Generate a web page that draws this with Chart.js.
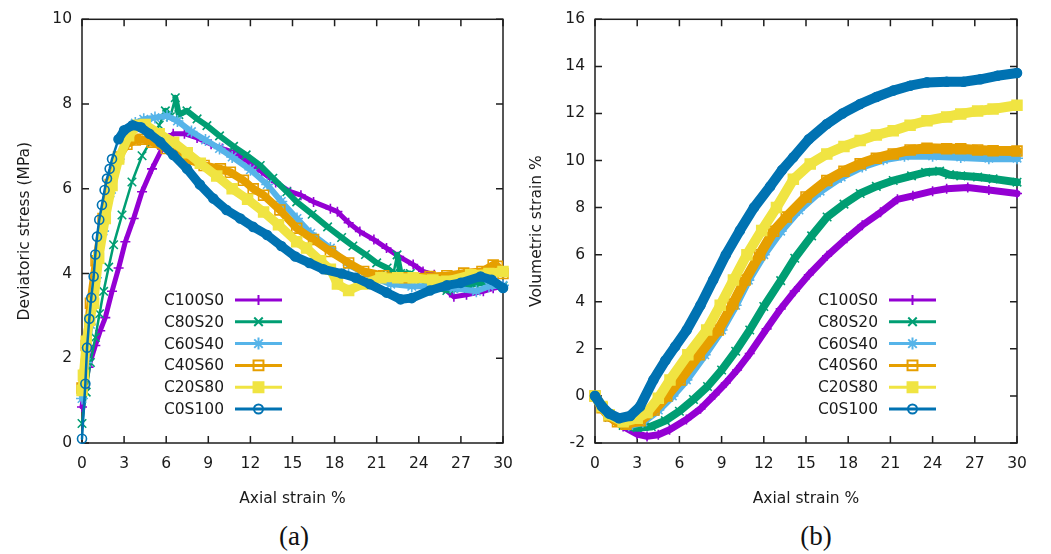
<!DOCTYPE html>
<html lang="en">
<head>
  <meta charset="UTF-8">
  <title>Deviatoric stress and volumetric strain vs axial strain</title>
  <script src="https://cdn.jsdelivr.net/npm/chart.js"></script>
  <style>
    body { margin: 0; background: #fff; width: 1051px; height: 554px; position: relative; overflow: hidden; }
    .panel { position: absolute; top: 0; }
    #wrapA { left: 0; }
    #wrapB { left: 525px; }
    .caption { position: absolute; top: 520px; font-family: "Liberation Serif", serif; font-size: 27px; color: #111; transform: translateX(-50%); line-height: 32px; }
  </style>
</head>
<body>
  <div id="wrapA" class="panel"><canvas id="chartA" width="525" height="520" style="width:525px;height:520px"></canvas></div>
  <div id="wrapB" class="panel"><canvas id="chartB" width="526" height="520" style="width:526px;height:520px"></canvas></div>
  <div class="caption" style="left:294px">(a)</div>
  <div class="caption" style="left:816px">(b)</div>

  <script>
    // series names
    const seriesNames = ['C100S0', 'C80S20', 'C60S40', 'C40S60', 'C20S80', 'C0S100'];

    // axis ticks
    const strainTicks = [0, 3, 6, 9, 12, 15, 18, 21, 24, 27, 30];
    const stressTicks = [0, 2, 4, 6, 8, 10];
    const volTicks = [-2, 0, 2, 4, 6, 8, 10, 12, 14, 16];

    // (a) deviatoric stress (MPa) vs axial strain %, [strain, stress]
    const devC100S0 = [[0,0.85],[0.2,1.3],[0.47,1.79],[0.95,2.3],[1.3,2.65],[1.66,2.96],[2.14,3.58],[2.61,4.13],[3.09,4.75],[3.68,5.3],[4.28,5.93],[4.99,6.47],[5.7,6.94],[6.5,7.3],[7.3,7.3],[8.2,7.2],[9.2,7.05],[10.0,6.95],[10.8,6.86],[11.8,6.65],[12.8,6.4],[13.8,6.15],[14.85,5.93],[15.6,5.85],[16.5,5.69],[17.7,5.53],[18.2,5.46],[19.0,5.2],[19.8,4.99],[20.8,4.8],[21.7,4.6],[22.6,4.4],[23.6,4.21],[24.3,4.05],[25.1,3.97],[25.8,3.65],[26.5,3.45],[27.4,3.5],[28.6,3.58],[29.3,3.65],[30,3.7]];
    const devC80S20 = [[0,0.46],[0.3,1.2],[0.6,1.9],[0.95,2.49],[1.25,3.05],[1.54,3.58],[1.9,4.15],[2.25,4.68],[2.85,5.38],[3.56,6.16],[4.28,6.78],[4.99,7.17],[5.5,7.5],[5.94,7.84],[6.3,7.7],[6.65,8.15],[6.9,7.75],[7.48,7.84],[8.2,7.65],[8.9,7.49],[9.8,7.25],[10.8,7.0],[11.7,6.8],[12.7,6.55],[13.6,6.25],[14.6,5.93],[15.3,5.69],[16.4,5.4],[17.5,5.1],[18.5,4.85],[19.3,4.65],[20.2,4.45],[21.0,4.25],[21.74,4.13],[22.2,4.0],[22.45,4.44],[22.7,4.0],[23.4,4.0],[24.2,3.85],[25,3.7],[26,3.6],[27,3.65],[28,3.75],[29,3.8],[30,3.7]];
    const devC60S40 = [[0,1.05],[0.3,1.9],[0.6,2.8],[1.0,3.9],[1.5,5.0],[2.0,5.9],[2.6,6.7],[3.2,7.3],[3.8,7.55],[4.4,7.64],[5.2,7.68],[6.06,7.72],[6.8,7.6],[7.8,7.35],[8.8,7.15],[9.8,6.95],[10.7,6.75],[12,6.45],[13.2,6.1],[14.2,5.7],[15.32,5.3],[16.3,4.95],[17.7,4.6],[19,4.2],[20.8,3.9],[22,3.75],[23.5,3.7],[25,3.7],[26.5,3.65],[28.1,3.58],[29,3.7],[30,3.72]];
    const devC40S60 = [[0,1.3],[0.3,2.3],[0.6,3.3],[1.0,4.3],[1.5,5.3],[2.0,6.1],[2.6,6.75],[3.2,7.05],[3.8,7.15],[4.3,7.17],[5.0,7.1],[6.0,6.95],[7.48,6.7],[8.7,6.55],[9.86,6.47],[10.57,6.39],[11.5,6.2],[12.2,6.0],[12.94,5.85],[14.1,5.5],[15.3,5.07],[16.5,4.8],[17.7,4.52],[19,4.25],[20.07,4.05],[21.5,3.95],[23,3.9],[24.8,3.93],[26,3.95],[27.2,4.01],[28.5,4.05],[29.3,4.2],[29.6,4.17],[30,4.0]];
    const devC20S80 = [[0,1.24],[0.1,1.6],[0.3,2.4],[0.55,2.9],[0.83,3.3],[1.19,4.36],[1.66,5.3],[2.14,6.08],[2.61,6.7],[3.32,7.25],[4.0,7.5],[4.5,7.52],[5.5,7.3],[6.53,7.1],[7.5,6.85],[8.43,6.6],[9.6,6.3],[10.7,6.0],[11.8,5.75],[12.94,5.45],[14.0,5.15],[15.3,4.75],[16.0,4.6],[17.0,4.3],[17.7,4.1],[18.2,3.75],[19.0,3.6],[20.0,3.75],[21.3,3.9],[22.5,3.9],[23.6,3.9],[25,3.85],[26,3.82],[27.7,3.97],[29,4.0],[30,4.05]];
    const devC0S100 = [[0,0.1],[0.24,1.4],[0.36,2.25],[0.52,2.93],[0.66,3.43],[0.83,3.93],[0.95,4.45],[1.07,4.87],[1.23,5.27],[1.42,5.62],[1.61,5.97],[1.78,6.24],[1.97,6.47],[2.14,6.7],[2.6,7.17],[3.0,7.38],[3.6,7.5],[4.2,7.45],[4.8,7.3],[5.58,7.1],[6.5,6.8],[7.48,6.47],[8.4,6.1],[9.36,5.77],[10.3,5.5],[11.28,5.3],[12.2,5.1],[13.19,4.91],[14.2,4.65],[15.2,4.4],[16.2,4.25],[17.2,4.1],[18.5,4.0],[19.5,3.9],[20.5,3.75],[21.7,3.55],[22.7,3.39],[23.5,3.42],[24.8,3.6],[26,3.72],[27,3.78],[28.4,3.93],[29.2,3.85],[30,3.66]];

    // (b) volumetric strain % vs axial strain %, [strain, volumetric]
    const volC100S0 = [[0,0],[0.5,-0.45],[1,-0.85],[2,-1.3],[3,-1.62],[3.7,-1.72],[4.5,-1.65],[5.3,-1.44],[6.5,-1.0],[7.5,-0.55],[8.5,0.05],[9.3,0.55],[10.1,1.1],[11.0,1.8],[12.2,2.85],[13.2,3.7],[14.2,4.45],[15.2,5.15],[16.5,5.95],[17.9,6.7],[19.0,7.25],[20.3,7.8],[21.5,8.35],[22.6,8.5],[24,8.7],[25,8.8],[26.5,8.85],[28,8.75],[30,8.6]];
    const volC80S20 = [[0,0],[0.5,-0.5],[1,-0.9],[2,-1.25],[3,-1.35],[4,-1.3],[5,-1.05],[6,-0.65],[7,-0.15],[8,0.4],[9,1.1],[10,1.9],[11,2.8],[12,3.8],[13.2,4.9],[14.2,5.85],[15.4,6.8],[16.5,7.6],[17.7,8.15],[18.85,8.6],[20,8.9],[21.2,9.15],[22.5,9.35],[23.5,9.5],[24.5,9.55],[25.2,9.4],[26,9.35],[27.2,9.3],[28.3,9.22],[30,9.08]];
    const volC60S40 = [[0,0],[0.5,-0.5],[1,-0.85],[1.7,-1.1],[2.4,-1.25],[3.4,-1.1],[4.5,-0.6],[5.5,0],[6.5,0.68],[7.8,1.75],[9,2.8],[10,3.85],[10.9,4.92],[12,6],[13.2,7.0],[14.5,7.9],[16,8.7],[17.5,9.3],[19,9.75],[20.5,10.05],[22,10.2],[24,10.2],[26,10.15],[28,10.1],[30,10.1]];
    const volC40S60 = [[0,0],[0.5,-0.5],[1,-0.85],[1.6,-1.1],[2.2,-1.2],[3.2,-1.05],[4.2,-0.6],[5.1,0],[6.05,0.68],[7.4,1.75],[8.77,2.8],[9.8,3.9],[10.67,4.92],[11.7,6.0],[12.7,7.0],[13.6,7.6],[15,8.45],[16.48,9.15],[17.7,9.55],[18.85,9.86],[20,10.1],[21.2,10.28],[22.4,10.45],[23.6,10.52],[25,10.5],[26,10.5],[27.2,10.45],[28.3,10.42],[30,10.4]];
    const volC20S80 = [[0,0],[0.5,-0.45],[1,-0.8],[2,-1.1],[3,-0.95],[3.7,-0.7],[4.5,-0.1],[5.33,0.68],[6.6,1.75],[7.94,2.8],[8.9,3.85],[9.84,4.92],[10.8,6],[11.85,7.03],[12.9,8.0],[14.1,9.2],[15.3,9.85],[16.48,10.28],[17.7,10.6],[18.85,10.85],[20,11.08],[21.2,11.27],[22.4,11.5],[23.6,11.69],[25,11.85],[26,11.98],[27.2,12.1],[28.3,12.19],[30,12.35]];
    const volC0S100 = [[0,0],[0.5,-0.45],[1,-0.75],[1.7,-0.95],[2.5,-0.85],[3.2,-0.45],[4.15,0.68],[5,1.5],[5.7,2.1],[6.52,2.8],[7.5,3.85],[8.4,4.92],[9.3,6.0],[10.3,7.03],[11.3,8.0],[12.45,8.9],[13.3,9.6],[14.1,10.14],[15.2,10.9],[16.48,11.55],[17.6,12.0],[18.85,12.4],[20,12.7],[21.2,12.97],[22.4,13.18],[23.6,13.32],[25,13.35],[26.2,13.35],[27.4,13.45],[28.6,13.6],[30,13.72]];

    // gnuplot-like look for each series (steep: thin line where the record is sparse on the rise)
    const looks = [
      { color: '#9400d3', style: 'cross',    r: 5,   fill: false, bandA: 5, bandB: 7,  steep: false },
      { color: '#009e73', style: 'crossRot', r: 6,   fill: false, bandA: 6, bandB: 8,  steep: true },
      { color: '#56b4e9', style: 'star',     r: 6,   fill: false, bandA: 6, bandB: 8,  steep: false },
      { color: '#e69f00', style: 'rect',     r: 7,   fill: false, bandA: 8, bandB: 10, steep: false },
      { color: '#f0e442', style: 'rect',     r: 7,   fill: true,  bandA: 9, bandB: 10, steep: false },
      { color: '#0072b2', style: 'circle',   r: 4.5, fill: false, bandA: 9, bandB: 10, steep: true }
    ];

    Chart.defaults.font.family = '"DejaVu Sans", sans-serif';
    Chart.defaults.font.size = 15.5;
    Chart.defaults.color = '#1a1a1a';

    function drawMarker(ctx, style, r, x, y, fill) {
      ctx.beginPath();
      if (style === 'circle') {
        ctx.arc(x, y, r, 0, Math.PI * 2);
      } else if (style === 'rect') {
        const s = r * Math.SQRT1_2;
        ctx.rect(x - s, y - s, 2 * s, 2 * s);
      } else {
        const d = r * Math.SQRT1_2;
        if (style === 'cross' || style === 'star') {
          ctx.moveTo(x - r, y); ctx.lineTo(x + r, y);
          ctx.moveTo(x, y - r); ctx.lineTo(x, y + r);
        }
        if (style === 'crossRot' || style === 'star') {
          ctx.moveTo(x - d, y - d); ctx.lineTo(x + d, y + d);
          ctx.moveTo(x - d, y + d); ctx.lineTo(x + d, y - d);
        }
      }
      if (fill) ctx.fill();
      ctx.stroke();
    }

    // border box with inward ticks on all four sides
    const framePlugin = {
      id: 'frame',
      beforeDatasetsDraw(chart) {
        const { ctx, chartArea: a, scales } = chart;
        ctx.save();
        ctx.strokeStyle = '#1e1e1e';
        ctx.lineWidth = 1.5;
        ctx.strokeRect(a.left, a.top, a.right - a.left, a.bottom - a.top);
        ctx.beginPath();
        scales.x.ticks.forEach(t => {
          const px = scales.x.getPixelForValue(t.value);
          ctx.moveTo(px, a.bottom); ctx.lineTo(px, a.bottom - 7);
          ctx.moveTo(px, a.top); ctx.lineTo(px, a.top + 7);
        });
        scales.y.ticks.forEach(t => {
          const py = scales.y.getPixelForValue(t.value);
          ctx.moveTo(a.left, py); ctx.lineTo(a.left + 7, py);
          ctx.moveTo(a.right, py); ctx.lineTo(a.right - 7, py);
        });
        ctx.stroke();
        ctx.restore();
      }
    };

    // key in gnuplot style: label right-aligned, sample line with marker to its right
    const keyPlugin = {
      id: 'key',
      afterDatasetsDraw(chart, args, opts) {
        const ctx = chart.ctx;
        ctx.save();
        ctx.font = '15.5px "DejaVu Sans", sans-serif';
        ctx.textAlign = 'right';
        ctx.textBaseline = 'middle';
        seriesNames.forEach((name, i) => {
          const lk = looks[i];
          const y = opts.top + i * opts.step;
          ctx.fillStyle = '#1a1a1a';
          ctx.fillText(name, opts.right, y + 1);
          const x0 = opts.right + 11, x1 = opts.right + 58, xm = (x0 + x1) / 2;
          ctx.strokeStyle = lk.color;
          ctx.fillStyle = lk.color;
          ctx.lineWidth = 3;
          ctx.beginPath(); ctx.moveTo(x0, y); ctx.lineTo(x1, y); ctx.stroke();
          ctx.lineWidth = 2;
          drawMarker(ctx, lk.style, lk.r, xm, y, lk.fill);
        });
        ctx.restore();
      }
    };

    function buildDatasets(seriesList, bandKey, thinSteep) {
      return seriesList.map((pts, i) => {
        const lk = looks[i];
        const band = lk[bandKey];
        return {
          label: seriesNames[i],
          data: pts.map(([x, y]) => ({ x, y })),
          order: 5 - i,
          borderColor: lk.color,
          backgroundColor: lk.color,
          borderWidth: band,
          borderCapStyle: 'round',
          borderJoinStyle: 'round',
          pointStyle: lk.style,
          pointRadius: lk.r,
          pointBorderWidth: 1.6,
          pointBorderColor: lk.color,
          pointBackgroundColor: lk.fill ? lk.color : 'rgba(0,0,0,0)',
          clip: false,
          segment: {
            borderWidth: ctx => {
              if (!thinSteep || !lk.steep) return band;
              const dx = Math.abs(ctx.p1.x - ctx.p0.x);
              const dy = ctx.p1.y - ctx.p0.y;
              return (dy < -1.6 * dx) ? 2.5 : band;
            }
          }
        };
      });
    }

    function makeChart(id, seriesList, opt) {
      return new Chart(document.getElementById(id), {
        type: 'line',
        data: { datasets: buildDatasets(seriesList, opt.bandKey, opt.thinSteep) },
        options: {
          responsive: false,
          animation: false,
          events: [],
          layout: { padding: { left: 0, top: 16, right: opt.padRight, bottom: 0 } },
          scales: {
            x: {
              type: 'linear',
              min: strainTicks[0],
              max: strainTicks[strainTicks.length - 1],
              afterBuildTicks: s => { s.ticks = strainTicks.map(v => ({ value: v })); },
              afterFit: s => { s.height = 77; },
              grid: { display: false, drawTicks: false },
              border: { display: false },
              ticks: { padding: 12, maxRotation: 0, autoSkip: false },
              title: { display: true, text: 'Axial strain %', padding: { top: 0, bottom: 12 } }
            },
            y: {
              type: 'linear',
              min: opt.yTicks[0],
              max: opt.yTicks[opt.yTicks.length - 1],
              afterBuildTicks: s => { s.ticks = opt.yTicks.map(v => ({ value: v })); },
              afterFit: s => { s.width = opt.yWidth; },
              grid: { display: false, drawTicks: false },
              border: { display: false },
              ticks: { padding: 10, autoSkip: false },
              title: { display: true, text: opt.yTitle, padding: { top: opt.yTitlePad, bottom: 0 } }
            }
          },
          plugins: {
            legend: { display: false },
            tooltip: { enabled: false },
            key: { right: opt.keyRight, top: 300, step: 21.8 }
          }
        },
        plugins: [framePlugin, keyPlugin]
      });
    }

    makeChart('chartA', [devC100S0, devC80S20, devC60S40, devC40S60, devC20S80, devC0S100], {
      yTicks: stressTicks, yTitle: 'Deviatoric stress (MPa)', yWidth: 82, yTitlePad: 16,
      padRight: 22, keyRight: 224, bandKey: 'bandA', thinSteep: true
    });

    makeChart('chartB', [volC100S0, volC80S20, volC60S40, volC40S60, volC20S80, volC0S100], {
      yTicks: volTicks, yTitle: 'Volumetric strain %', yWidth: 70, yTitlePad: 3,
      padRight: 34, keyRight: 353, bandKey: 'bandB', thinSteep: false
    });
  </script>
</body>
</html>
